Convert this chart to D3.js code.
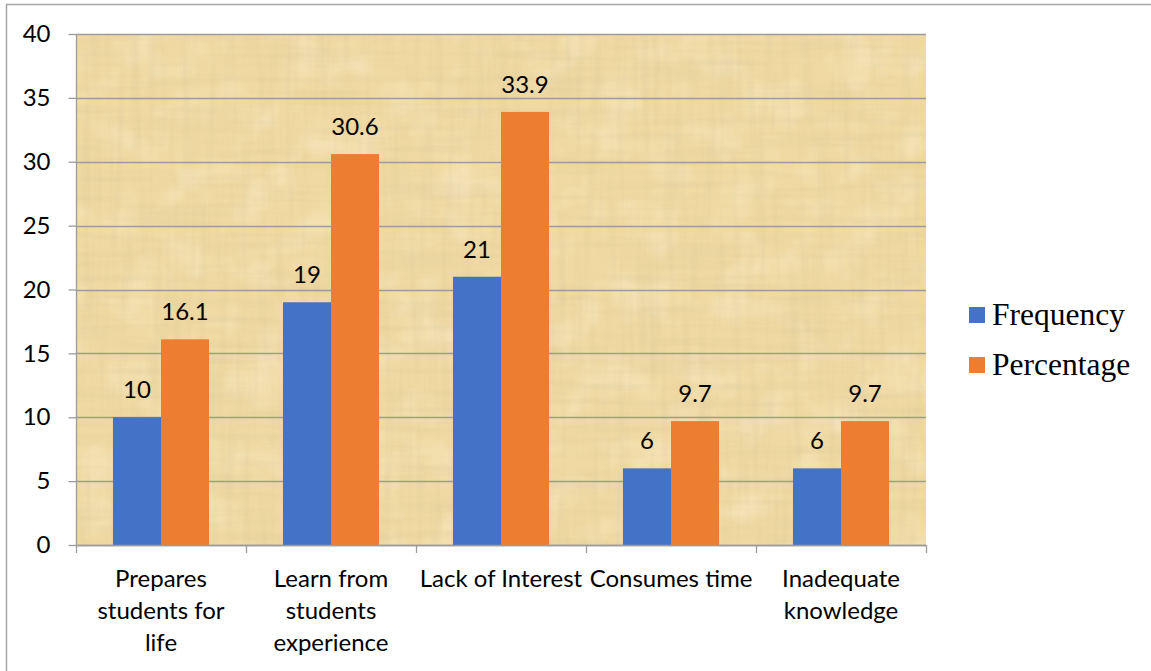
<!DOCTYPE html>
<html>
<head>
<meta charset="utf-8">
<script src="https://cdn.jsdelivr.net/npm/d3@7"></script>
<style>
  html, body { margin: 0; padding: 0; background: #fff; }
  svg { display: block; }
</style>
</head>
<body>
<svg id="chart" width="1151" height="671"></svg>
<script>
// Category names ("\n" marks where the axis label wraps)
const categories = [
  "Prepares\nstudents for\nlife",
  "Learn from\nstudents\nexperience",
  "Lack of Interest",
  "Consumes time",
  "Inadequate\nknowledge"
];
const seriesNames = ["Frequency", "Percentage"];
const frequency = [10, 19, 21, 6, 6];
const percentage = [16.1, 30.6, 33.9, 9.7, 9.7];
const yTicks = [0, 5, 10, 15, 20, 25, 30, 35, 40];
const seriesColors = ["#4472C4", "#ED7D31"];

const svg = d3.select("#chart");
const plot = { left: 76, top: 34, right: 926, bottom: 545 };

// Outer chart frame
svg.append("rect")
  .attr("x", 6.5).attr("y", 4.5)
  .attr("width", 1160).attr("height", 680)
  .attr("fill", "none").attr("stroke", "#a6a6a6").attr("stroke-width", 1.5);

// Papyrus-like fill for the plot area
const defs = svg.append("defs");
function fiberFilter(id, freq, seed, rgb, gain, bias) {
  const f = defs.append("filter").attr("id", id)
    .attr("x", 0).attr("y", 0).attr("width", 1).attr("height", 1)
    .attr("filterUnits", "objectBoundingBox");
  f.append("feTurbulence").attr("type", "fractalNoise")
    .attr("baseFrequency", freq).attr("numOctaves", 3).attr("seed", seed)
    .attr("result", "n");
  f.append("feColorMatrix").attr("in", "n").attr("type", "matrix")
    .attr("values", `0 0 0 0 ${rgb[0]}  0 0 0 0 ${rgb[1]}  0 0 0 0 ${rgb[2]}  ${gain} 0 0 0 ${bias}`);
}
fiberFilter("fibH", "0.008 0.12", 3, [0.66, 0.55, 0.32], 1.6, -0.70);
fiberFilter("fibV", "0.12 0.008", 7, [0.66, 0.55, 0.32], 1.6, -0.70);
fiberFilter("blotch", "0.025 0.025", 11, [1.0, 0.94, 0.78], 1.8, -0.8);

const pw = plot.right - plot.left, ph = plot.bottom - plot.top;
const bg = svg.append("g");
bg.append("rect").attr("x", plot.left).attr("y", plot.top)
  .attr("width", pw).attr("height", ph).attr("fill", "#F0D9A2");
["blotch", "fibH", "fibV"].forEach(id => {
  bg.append("rect").attr("x", plot.left).attr("y", plot.top)
    .attr("width", pw).attr("height", ph).attr("fill", "#000")
    .attr("filter", `url(#${id})`).attr("opacity", id === "blotch" ? 0.4 : 0.35);
});

// Scales
const x0 = d3.scaleBand().domain(d3.range(categories.length))
  .range([plot.left, plot.right]).paddingInner(0).paddingOuter(0);
const x1 = d3.scaleBand().domain([0, 1])
  .range([0, x0.bandwidth()]).paddingInner(0).paddingOuter(0.77);
const y = d3.scaleLinear().domain([0, 40]).range([plot.bottom, plot.top]);

// Horizontal gridlines
svg.append("g").selectAll("line").data(yTicks).join("line")
  .attr("x1", plot.left).attr("x2", plot.right)
  .attr("y1", d => Math.round(y(d)) + 0.5).attr("y2", d => Math.round(y(d)) + 0.5)
  .attr("stroke", "#9c9c9c").attr("stroke-width", 1.3);

// Bars
const series = [frequency, percentage];
const bars = svg.append("g");
series.forEach((vals, s) => {
  bars.selectAll(null).data(vals).join("rect")
    .attr("x", (d, i) => x0(i) + x1(s))
    .attr("y", d => y(d))
    .attr("width", x1.bandwidth())
    .attr("height", d => y(0) - y(d))
    .attr("fill", seriesColors[s]);
});

// Value labels
const labelFont = "Lato, 'Open Sans', sans-serif";
const fontSize = 24;
series.forEach((vals, s) => {
  svg.append("g").selectAll("text").data(vals).join("text")
    .attr("x", (d, i) => x0(i) + x1(s) + x1.bandwidth() / 2)
    .attr("y", d => y(d) - 19)
    .attr("text-anchor", "middle")
    .attr("font-family", labelFont).attr("font-size", fontSize)
    .attr("fill", "#000")
    .text(d => d);
});

// Y axis
const yAxis = d3.axisLeft(y).tickValues(yTicks).tickSize(8).tickPadding(18);
const yg = svg.append("g").attr("transform", `translate(${plot.left + 0.5},0)`).call(yAxis);
yg.select(".domain").attr("stroke", "#9c9c9c").attr("stroke-width", 1.3)
  .attr("d", `M0,${plot.top}V${plot.bottom}`);
yg.selectAll(".tick line").attr("stroke", "#9c9c9c").attr("stroke-width", 1.3);
yg.selectAll(".tick text").attr("font-family", labelFont).attr("font-size", fontSize).attr("fill", "#000");

// X axis: tick marks at category boundaries
const boundaries = d3.range(categories.length + 1).map(i => plot.left + i * x0.step());
const xg = svg.append("g");
xg.append("line").attr("x1", plot.left).attr("x2", plot.right)
  .attr("y1", plot.bottom + 0.5).attr("y2", plot.bottom + 0.5)
  .attr("stroke", "#9c9c9c").attr("stroke-width", 1.3);
xg.selectAll("line.t").data(boundaries).join("line").attr("class", "t")
  .attr("x1", d => Math.round(d) + 0.5).attr("x2", d => Math.round(d) + 0.5)
  .attr("y1", plot.bottom).attr("y2", plot.bottom + 8)
  .attr("stroke", "#9c9c9c").attr("stroke-width", 1.3);

const catText = xg.selectAll("text.c").data(categories).join("text").attr("class", "c")
  .attr("x", (d, i) => x0(i) + x0.bandwidth() / 2)
  .attr("y", 587)
  .attr("text-anchor", "middle")
  .attr("font-family", labelFont).attr("font-size", fontSize).attr("fill", "#000");
catText.each(function(d) {
  const t = d3.select(this);
  d.split("\n").forEach((line, k) => {
    t.append("tspan").attr("x", t.attr("x")).attr("dy", k === 0 ? 0 : 32).text(line);
  });
});

// Legend
const legend = svg.append("g");
seriesNames.forEach((name, s) => {
  const gy = 307 + s * 50;
  legend.append("rect").attr("x", 969).attr("y", gy).attr("width", 16).attr("height", 16)
    .attr("fill", seriesColors[s]);
  legend.append("text").attr("x", 992).attr("y", gy + 18)
    .attr("font-family", "'Liberation Serif', 'Times New Roman', serif")
    .attr("font-size", 31.5).attr("fill", "#000").text(name);
});
</script>
</body>
</html>
